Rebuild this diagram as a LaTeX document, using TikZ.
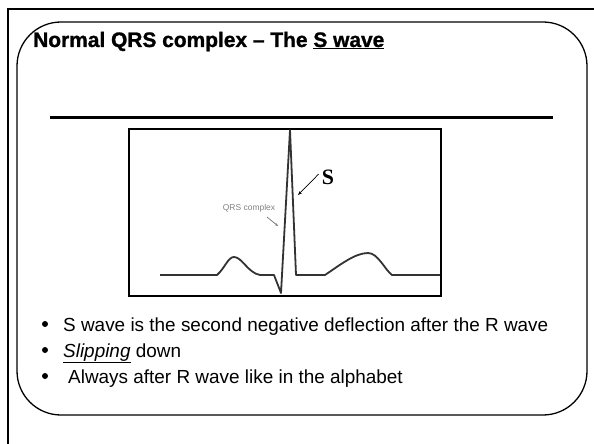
\documentclass[tikz,border=0pt]{standalone}
\usepackage{fontspec}
\setmainfont{Liberation Sans}
\newfontfamily\serifbold{Liberation Serif}
\newfontfamily\heavyfont[FakeBold=1.2]{Liberation Sans Bold}
\usetikzlibrary{arrows.meta}
\tikzset{
  frameline/.style={line width=1.5bp, black},
  slideframe/.style={line width=1.3bp, black, rounded corners=44bp},
  ecgline/.style={line width=1.8bp, black!80, line join=round},
  bullettext/.style={anchor=base west, inner sep=0pt, font=\fontsize{19}{22}\selectfont},
  bulletdot/.style={fill=black, circle, inner sep=0pt, minimum size=6bp},
}
\begin{document}
\begin{tikzpicture}[x=1bp,y=-1bp]
\useasboundingbox (0,0) rectangle (594,444);
% outer frame
\draw[frameline] (8,444) -- (8,9) -- (594,9);
% rounded slide frame
\draw[slideframe] (17,22) rectangle (587,415);
% title
\node[anchor=base west, inner sep=0pt, font=\heavyfont\fontsize{21}{24}\selectfont] (title) at (33,47)
  {Normal QRS complex – The \underline{S wave}};
% rule
\draw[line width=3bp] (50,118) -- (553,118);
% picture box
\draw[line width=1.2bp] (129,129) rectangle (441,296);
% ECG trace
\draw[ecgline] (160,275) -- (217,275)
  .. controls (225,268) and (228,257) .. (234,257)
  .. controls (242,257) and (248,273) .. (260,275)
  -- (274,275) -- (281,293) -- (290,130) -- (296,275) -- (325,275)
  .. controls (340,265) and (355,253) .. (368,253)
  .. controls (378,253) and (385,270) .. (392,275)
  -- (440,275);
% labels
\node[inner sep=1bp, text=black!50, font=\fontsize{8.5}{10}\selectfont] (qrs) at (249,208) {QRS complex};
\coordinate (qrstip) at (278,226);
\draw[black!55, line width=0.7bp, -{Stealth[length=3bp,width=2.5bp]}] (267,217) -- (qrstip);
\node[inner sep=1bp, font=\serifbold\bfseries\fontsize{22}{24}\selectfont] (slab) at (328,177) {S};
\coordinate (stip) at (298,195);
\draw[black, line width=0.7bp, -{Stealth[length=4bp,width=3bp]}] (slab.west) ++(-2,-3) -- (stip);
% bullets
\node[bulletdot] (b1) at (45,324) {};
\node[bullettext] (t1) at (63,331) {S wave is the second negative deflection after the R wave};
\node[bulletdot] (b2) at (45,350) {};
\node[bullettext] (t2) at (63,357) {\underline{\itshape Slipping} down};
\node[bulletdot] (b3) at (45,376) {};
\node[bullettext] (t3) at (68,383) {Always after R wave like in the alphabet};
\end{tikzpicture}
\end{document}
